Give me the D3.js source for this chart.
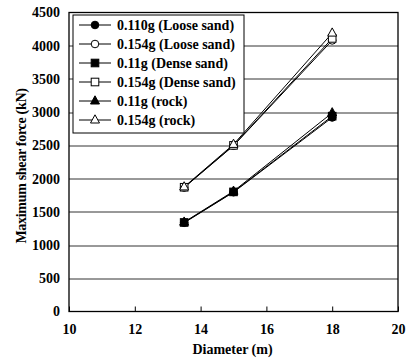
<!DOCTYPE html>
<html>
<head>
<meta charset="utf-8">
<script src="https://cdn.jsdelivr.net/npm/d3@7"></script>
<style>
body { margin: 0; background: #fff; }
text { font-family: "Liberation Serif", "Times New Roman", serif; font-weight: bold; }
</style>
</head>
<body>
<script>
var diameters = [13.5, 15, 18];
var seriesNames = ["0.110g (Loose sand)", "0.154g (Loose sand)", "0.11g (Dense sand)",
                   "0.154g (Dense sand)", "0.11g (rock)", "0.154g (rock)"];
var seriesValues = [
  [1335, 1795, 2920],
  [1865, 2495, 4080],
  [1340, 1800, 2940],
  [1870, 2500, 4110],
  [1345, 1810, 2990],
  [1875, 2515, 4190]
];
var seriesMarkers = ["circle", "circle", "square", "square", "triangle", "triangle"];
var seriesFilled = [true, false, true, false, true, false];
var xTicks = [10, 12, 14, 16, 18, 20];
var yTicks = [0, 500, 1000, 1500, 2000, 2500, 3000, 3500, 4000, 4500];

var margin = {top: 12.5, right: 10, bottom: 49.5, left: 69};
var W = 408, H = 361;
var width = W - margin.left - margin.right;
var height = H - margin.top - margin.bottom;

var svg = d3.select("body").append("svg")
  .attr("width", W)
  .attr("height", H)
  .append("g")
  .attr("transform", "translate(" + margin.left + "," + margin.top + ")");

var x = d3.scaleLinear().domain([10, 20]).range([0, width]);
var y = d3.scaleLinear().domain([0, 4500]).range([height, 0]);

// gridlines
svg.selectAll(".grid")
  .data(yTicks.slice(1, -1))
  .enter().append("line")
  .attr("x1", 0).attr("x2", width)
  .attr("y1", function(d) { return Math.round(y(d)) + 0.5; })
  .attr("y2", function(d) { return Math.round(y(d)) + 0.5; })
  .style("stroke", "#333")
  .style("stroke-width", 1);

// frame
svg.append("rect")
  .attr("x", 0).attr("y", 0)
  .attr("width", width).attr("height", height)
  .style("fill", "none")
  .style("stroke", "#000")
  .style("stroke-width", 1.3);

// axes
var xAxis = svg.append("g")
  .attr("transform", "translate(0," + height + ")")
  .call(d3.axisBottom(x).tickValues(xTicks).tickFormat(d3.format("d"))
    .tickSizeInner(-5).tickSizeOuter(0).tickPadding(13));
xAxis.select(".domain").remove();
xAxis.selectAll("text").style("font-size", "14px").style("fill", "#000");

var yAxis = svg.append("g")
  .call(d3.axisLeft(y).tickValues(yTicks).tickFormat(d3.format("d")).tickSize(0).tickPadding(9));
yAxis.select(".domain").remove();
yAxis.selectAll("text").style("font-size", "14px").style("fill", "#000");

// axis titles
svg.append("text")
  .attr("x", width / 2 - 1)
  .attr("y", height + 42)
  .attr("text-anchor", "middle")
  .style("font-size", "14px")
  .text("Diameter (m)");

svg.append("text")
  .attr("transform", "translate(" + (-43) + "," + (height / 2 + 4) + ") rotate(-90)")
  .attr("text-anchor", "middle")
  .style("font-size", "14px")
  .style("letter-spacing", "-0.3px")
  .text("Maximum shear force (kN)");

var line = d3.line()
  .x(function(d, i) { return x(diameters[i]); })
  .y(function(d) { return y(d); });

function drawMarker(g, type, filled, cx, cy) {
  var fill = filled ? "#000" : "#fff";
  if (type === "circle") {
    g.append("circle").attr("cx", cx).attr("cy", cy).attr("r", 3.8);
  } else if (type === "square") {
    g.append("rect").attr("x", cx - 3.8).attr("y", cy - 3.8).attr("width", 7.6).attr("height", 7.6);
  } else {
    g.append("path").attr("d", "M" + cx + "," + (cy - 5.2) + "L" + (cx + 4.5) + "," + (cy + 3) + "L" + (cx - 4.5) + "," + (cy + 3) + "Z");
  }
  g.selectAll("*").style("fill", fill).style("stroke", "#000").style("stroke-width", 1);
}

seriesValues.forEach(function(vals, s) {
  svg.append("path")
    .datum(vals)
    .attr("d", line)
    .style("fill", "none")
    .style("stroke", "#000")
    .style("stroke-width", 1);
});
seriesValues.forEach(function(vals, s) {
  vals.forEach(function(v, i) {
    drawMarker(svg.append("g"), seriesMarkers[s], seriesFilled[s], x(diameters[i]), y(v));
  });
});

// legend
var legend = svg.append("g").attr("transform", "translate(4,2.5)");
legend.append("rect")
  .attr("x", 0).attr("y", 0)
  .attr("width", 171).attr("height", 118)
  .style("fill", "#fff")
  .style("stroke", "#000")
  .style("stroke-width", 1);

seriesNames.forEach(function(name, s) {
  var ly = 10 + s * 19;
  legend.append("line")
    .attr("x1", 6).attr("x2", 38)
    .attr("y1", ly).attr("y2", ly)
    .style("stroke", "#000").style("stroke-width", 1);
  drawMarker(legend.append("g"), seriesMarkers[s], seriesFilled[s], 22, ly);
  legend.append("text")
    .attr("x", 44)
    .attr("y", ly + 5)
    .style("font-size", "14px")
    .text(name);
});
</script>
</body>
</html>
